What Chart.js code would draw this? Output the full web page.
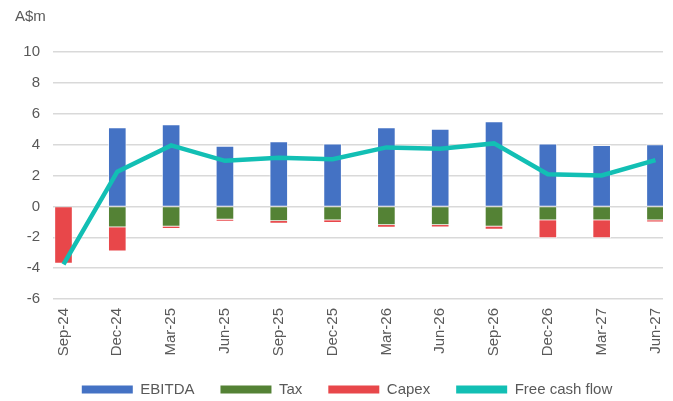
<!DOCTYPE html>
<html>
<head>
<meta charset="utf-8">
<script src="https://cdn.jsdelivr.net/npm/chart.js@4"></script>
<style>
  body { margin: 0; background: #fff; }
  #wrap { width: 673px; height: 401px; }
</style>
</head>
<body>
<div id="wrap"><canvas id="fcfChart"></canvas></div>
<script>
const labels = ['Sep-24', 'Dec-24', 'Mar-25', 'Jun-25', 'Sep-25', 'Dec-25', 'Mar-26', 'Jun-26', 'Sep-26', 'Dec-26', 'Mar-27', 'Jun-27'];
const ebitda = [0, 5.1, 5.3, 3.9, 4.2, 4.05, 5.1, 5.0, 5.5, 4.05, 3.95, 4.0];
const tax = [0, -1.35, -1.3, -0.85, -0.95, -0.9, -1.2, -1.2, -1.3, -0.9, -0.9, -0.9];
const capex = [-3.7, -1.55, -0.15, -0.12, -0.15, -0.15, -0.17, -0.15, -0.2, -1.15, -1.15, -0.12];
const freeCashFlow = [-3.75, 2.25, 3.95, 2.95, 3.15, 3.05, 3.82, 3.73, 4.08, 2.08, 2.0, 3.0];
const yTicks = { min: -6, max: 10, step: 2 };

const FONT = "'Liberation Sans', Arial, sans-serif";
const GREY = '#595959';

// x is linear so the first/last bars can sit close to the plot edges like the original
const toPoints = arr => arr.map((v, i) => ({ x: i, y: v }));

function barSet(label, data, color) {
  return {
    type: 'bar',
    label: label,
    data: toPoints(data),
    backgroundColor: color,
    borderColor: 'rgba(255,255,255,0.6)',
    borderWidth: 1,
    barThickness: 18,
    stack: 'cash',
    order: 1
  };
}

// shift the legend a little to the right, as in the reference
const nudgeLegend = {
  id: 'nudgeLegend',
  afterLayout(chart) {
    chart.legend.left += 16;
  }
};

new Chart(document.getElementById('fcfChart'), {
  data: {
    datasets: [
      barSet('EBITDA', ebitda, '#4472C4'),
      barSet('Tax', tax, '#548235'),
      barSet('Capex', capex, '#E8474A'),
      {
        type: 'line',
        label: 'Free cash flow',
        data: toPoints(freeCashFlow),
        borderColor: '#12BFB4',
        backgroundColor: '#12BFB4',
        borderWidth: 4.5,
        pointRadius: 0,
        tension: 0,
        stack: 'fcf',
        order: 0
      }
    ]
  },
  plugins: [nudgeLegend],
  options: {
    responsive: true,
    maintainAspectRatio: false,
    animation: false,
    layout: { padding: { left: 15, right: 10, top: 0, bottom: -6 } },
    scales: {
      x: {
        type: 'linear',
        offset: false,
        min: -0.195,
        max: 11.14,
        grid: { display: false, drawTicks: false },
        border: { display: false },
        afterFit: scale => {
          scale.height = 57;
          scale.paddingLeft = 0;
          scale.paddingRight = 0;
        },
        ticks: {
          stepSize: 1,
          includeBounds: false,
          maxTicksLimit: 20,
          autoSkip: false,
          minRotation: 90,
          maxRotation: 90,
          padding: 9,
          color: GREY,
          font: { family: FONT, size: 15 },
          callback: v => (Number.isInteger(v) && labels[v]) ? labels[v] : ''
        }
      },
      y: {
        stacked: true,
        min: yTicks.min,
        max: yTicks.max,
        afterFit: scale => { scale.width = 38; },
        grid: { color: '#D9D9D9', lineWidth: 1.5, drawTicks: false },
        border: { display: false },
        ticks: {
          stepSize: yTicks.step,
          padding: 13,
          color: GREY,
          font: { family: FONT, size: 15 }
        }
      }
    },
    plugins: {
      title: {
        display: true,
        text: 'A$m',
        align: 'start',
        color: GREY,
        font: { family: FONT, size: 15, weight: 'normal' },
        padding: { top: 8, bottom: 26 }
      },
      legend: {
        position: 'bottom',
        labels: {
          boxWidth: 51,
          boxHeight: 8,
          padding: 26,
          color: GREY,
          font: { family: FONT, size: 15 },
          sort: (a, b) => a.datasetIndex - b.datasetIndex,
          generateLabels: chart => Chart.defaults.plugins.legend.labels.generateLabels(chart)
            .map(item => Object.assign(item, { lineWidth: 0 }))
        }
      },
      tooltip: { enabled: false }
    }
  }
});
</script>
</body>
</html>
